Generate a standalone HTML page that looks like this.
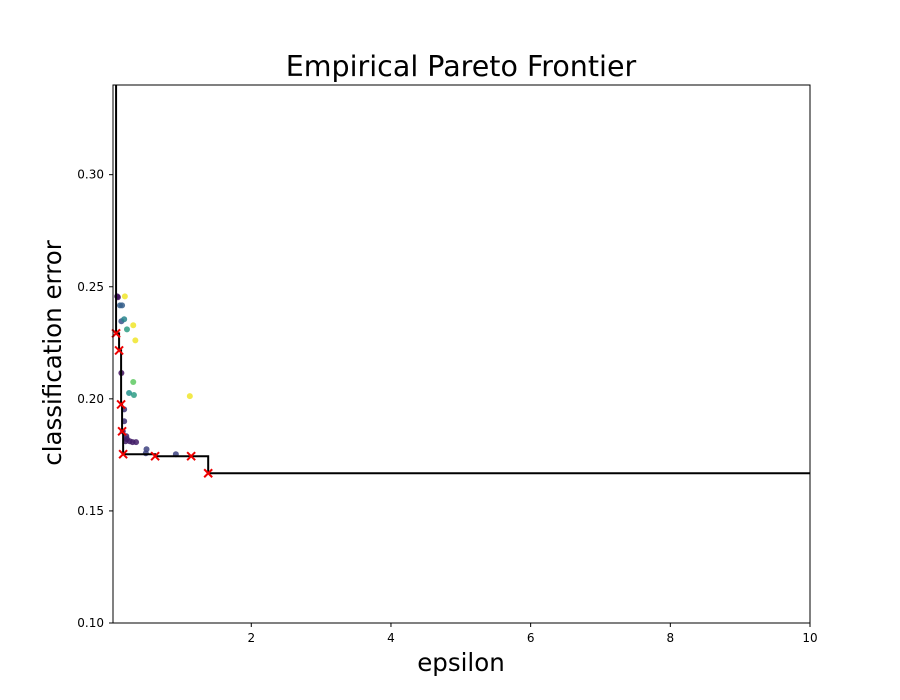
<!DOCTYPE html>
<html><head><meta charset="utf-8"><style>
body{margin:0;background:#fff}
svg{display:block;font-family:"DejaVu Sans","Liberation Sans",sans-serif}
</style></head><body>
<svg id="chart" width="900" height="700">
<rect width="900" height="700" fill="#fff"/>
<text x="461" y="76" font-size="28.5" text-anchor="middle">Empirical Pareto Frontier</text>
<text x="461" y="671" font-size="24.5" text-anchor="middle">epsilon</text>
<text transform="translate(61,353) rotate(-90)" font-size="24.5" text-anchor="middle">classification error</text>
<g id="ticks"></g>
<g id="points"></g>
<g id="frontier"></g>
<rect x="113" y="85" width="697" height="538" fill="none" stroke="#000" stroke-width="1"/>
</svg>
<script>
const xTicks=[2,4,6,8,10];
const yTicks=[0.10,0.15,0.20,0.25,0.30];
const ptX=[0.08,0.09,0.19,0.12,0.15,0.14,0.18,0.31,0.22,0.34,0.14,0.31,0.25,0.32,1.12,0.18,0.18,0.16,0.21,0.22,0.20,0.26,0.30,0.35,0.50,0.49,0.92];
const ptY=[0.2457,0.2453,0.2457,0.2417,0.2417,0.2346,0.2355,0.2328,0.2310,0.2261,0.2115,0.2075,0.2026,0.2017,0.2012,0.1953,0.1900,0.1855,0.1833,0.1820,0.1811,0.1811,0.1807,0.1807,0.1775,0.1757,0.1753];
const ptC=[0.05,0.05,0.98,0.3,0.3,0.25,0.45,0.98,0.55,0.98,0.05,0.75,0.5,0.55,0.98,0.15,0.15,0.08,0.1,0.1,0.08,0.08,0.08,0.08,0.2,0.2,0.2];
const frX=[0.064,0.107,0.136,0.150,0.165,0.623,1.139,1.383];
const frY=[0.2292,0.2216,0.1975,0.1855,0.1753,0.1744,0.1744,0.1668];
const X0=0.02,X1=10,Y0=0.10,Y1=0.34;
const sx=v=>113+(v-X0)/(X1-X0)*697;
const sy=v=>623-(v-Y0)/(Y1-Y0)*538;
const NS="http://www.w3.org/2000/svg";
function mk(t,a,p){const e=document.createElementNS(NS,t);for(const k in a)e.setAttribute(k,a[k]);p.appendChild(e);return e;}
function viridis(t){const s=[[68,1,84],[59,82,139],[33,145,140],[94,201,98],[253,231,37]];const f=t*4,i=Math.min(3,Math.floor(f)),r=f-i;return `rgb(${s[i].map((c,k)=>Math.round(c+(s[i+1][k]-c)*r)).join(',')})`;}
const tg=document.getElementById('ticks');
xTicks.forEach(v=>{const x=sx(v);
 const l=mk('line',{x1:x,x2:x,y1:623,y2:627,stroke:'#000'},tg);
 
 
 const t=mk('text',{x:x,y:642,'font-size':12,'text-anchor':'middle'},tg);t.textContent=v;
 
 });
yTicks.forEach(v=>{const y=sy(v);
 const l=mk('line',{x1:109,x2:113,y1:y,y2:y,stroke:'#000'},tg);
 
 
 const t=mk('text',{x:104,y:y+4,'font-size':12,'text-anchor':'end'},tg);t.textContent=v.toFixed(2);
 
 });
const pg=document.getElementById('points');
ptX.forEach((v,i)=>{const c=mk('circle',{cx:sx(v),cy:sy(ptY[i]),r:3,fill:viridis(ptC[i]),'fill-opacity':0.85},pg);
 
 });
const fg=document.getElementById('frontier');
let d=`M${sx(frX[0])},85`;
frX.forEach((v,i)=>{d+=` L${sx(v)},${sy(frY[i])}`;const nx=i<frX.length-1?sx(frX[i+1]):810;d+=` L${nx},${sy(frY[i])}`;});
const p=mk('path',{d:d,fill:'none',stroke:'#000','stroke-width':2},fg);


frX.forEach((v,i)=>{const x=sx(v),y=sy(frY[i]);
 const m=mk('path',{d:`M${x-4},${y-4}L${x+4},${y+4}M${x-4},${y+4}L${x+4},${y-4}`,stroke:'#e00','stroke-width':2},fg);
 
 });
</script>
</body></html>
